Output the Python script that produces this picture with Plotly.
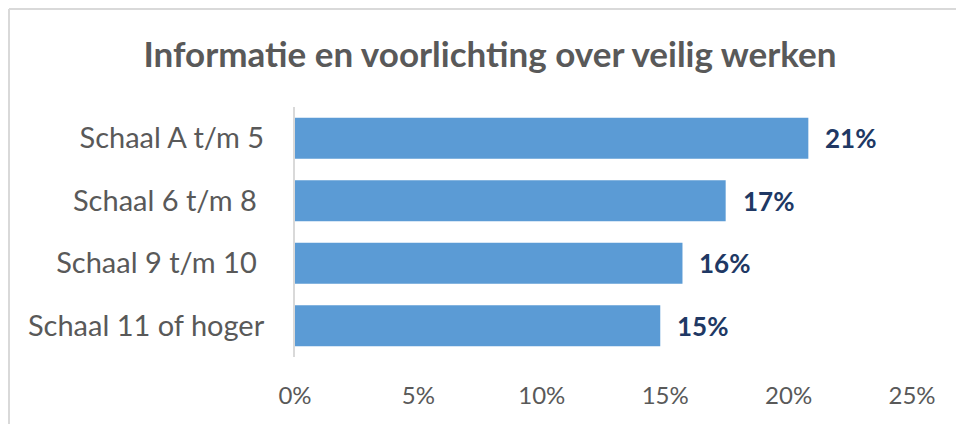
import plotly.graph_objects as go

categories = ["Schaal A t/m 5", "Schaal 6 t/m 8\u00a0", "Schaal 9 t/m 10\u00a0", "Schaal 11 of hoger"]
values = [0.208, 0.1745, 0.157, 0.148]
value_labels = ["21%", "17%", "16%", "15%"]
tick_vals = [0, 0.05, 0.10, 0.15, 0.20, 0.25]
tick_text = ["0%", "5%", "10%", "15%", "20%", "25%"]
title_text = "Informatie en voorlichting over veilig werken"

FONT = "Lato"
GRAY = "#595959"
NAVY = "#203864"

W, H = 964, 424
ML, MT, PW, PH = 287, 99, 617, 250

fig = go.Figure()
fig.add_trace(go.Bar(
    y=categories, x=values, orientation="h",
    marker=dict(color="#5B9BD5", line=dict(width=0)),
    hoverinfo="skip",
))

for c, v, t in zip(categories, values, value_labels):
    fig.add_annotation(x=v, y=c, text="<b>%s</b>" % t, showarrow=False,
                       xanchor="left", yanchor="middle", xshift=15,
                       font=dict(family=FONT, size=26, color=NAVY))

# chart border (light gray frame at the figure's top-left edges)
bx = (1 - ML) / PW
by = (MT + PH - 1) / PH
fig.add_shape(type="line", xref="paper", yref="paper",
              x0=bx, x1=2, y0=by, y1=by,
              line=dict(color="#D9D9D9", width=2))
fig.add_shape(type="line", xref="paper", yref="paper",
              x0=bx, x1=bx, y0=by, y1=-2,
              line=dict(color="#D9D9D9", width=2))

fig.update_layout(
    width=W, height=H,
    margin=dict(l=ML, r=W - ML - PW, t=MT, b=H - MT - PH),
    paper_bgcolor="white", plot_bgcolor="white",
    showlegend=False,
    bargap=0.345,
    title=dict(text="<b>%s</b>" % title_text, x=0.5, xanchor="center",
               y=1 - 47 / H, yanchor="middle",
               font=dict(family=FONT, size=35, color=GRAY)),
    font=dict(family=FONT, color=GRAY),
)
fig.update_xaxes(range=[0, 0.25], tickvals=tick_vals, ticktext=tick_text,
                 showgrid=False, zeroline=False, showline=False,
                 ticks="", ticklabelstandoff=22,
                 tickfont=dict(family=FONT, size=24, color=GRAY))
fig.update_yaxes(autorange="reversed", showgrid=False, zeroline=False,
                 showline=True, linecolor="#D9D9D9", linewidth=2,
                 ticks="", ticklabelstandoff=23,
                 tickfont=dict(family=FONT, size=29, color=GRAY))

fig.write_html("out.html")
